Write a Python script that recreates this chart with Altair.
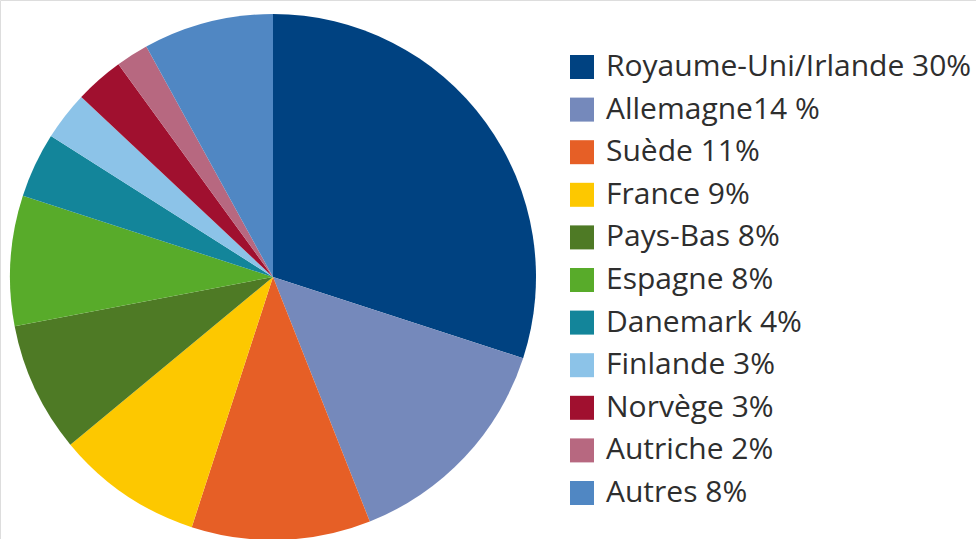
import altair as alt
import pandas as pd

countries = ["Royaume-Uni/Irlande", "Allemagne", "Suède", "France", "Pays-Bas",
             "Espagne", "Danemark", "Finlande", "Norvège", "Autriche", "Autres"]
labels = ["Royaume-Uni/Irlande 30%", "Allemagne14 %", "Suède 11%", "France 9%",
          "Pays-Bas 8%", "Espagne 8%", "Danemark 4%", "Finlande 3%", "Norvège 3%",
          "Autriche 2%", "Autres 8%"]
shares = [30, 14, 11, 9, 8, 8, 4, 3, 3, 2, 8]
colors = ["#004281", "#7589bb", "#e65f26", "#fdc800", "#4e7a25", "#58ab2a",
          "#13859a", "#8cc3e8", "#a0102f", "#b76880", "#5087c3"]

df = pd.DataFrame({"pays": countries, "label": labels, "part": shares,
                   "ordre": list(range(len(countries)))})

chart = alt.Chart(df).mark_arc(outerRadius=263, stroke=None).encode(
    theta=alt.Theta("part:Q", stack=True),
    order=alt.Order("ordre:Q"),
    color=alt.Color(
        "label:N",
        sort=labels,
        scale=alt.Scale(domain=labels, range=colors),
        legend=alt.Legend(
            title=None,
            orient="none",
            legendX=567,
            legendY=52,
            symbolType="square",
            symbolSize=576,
            symbolStrokeWidth=0,
            symbolOpacity=1,
            labelFontSize=30,
            labelFont="Open Sans",
            labelColor="#2e2e2e",
            labelOffset=9,
            labelLimit=500,
            rowPadding=12.6,
        ),
    ),
    x=alt.value(273),
    y=alt.value(277),
).properties(
    width=976, height=539, padding=0, autosize=alt.AutoSizeParams(type="none")
).configure_view(stroke=None).configure(background="white")

chart.save("out.html", embed_options={"renderer": "svg", "actions": False})
